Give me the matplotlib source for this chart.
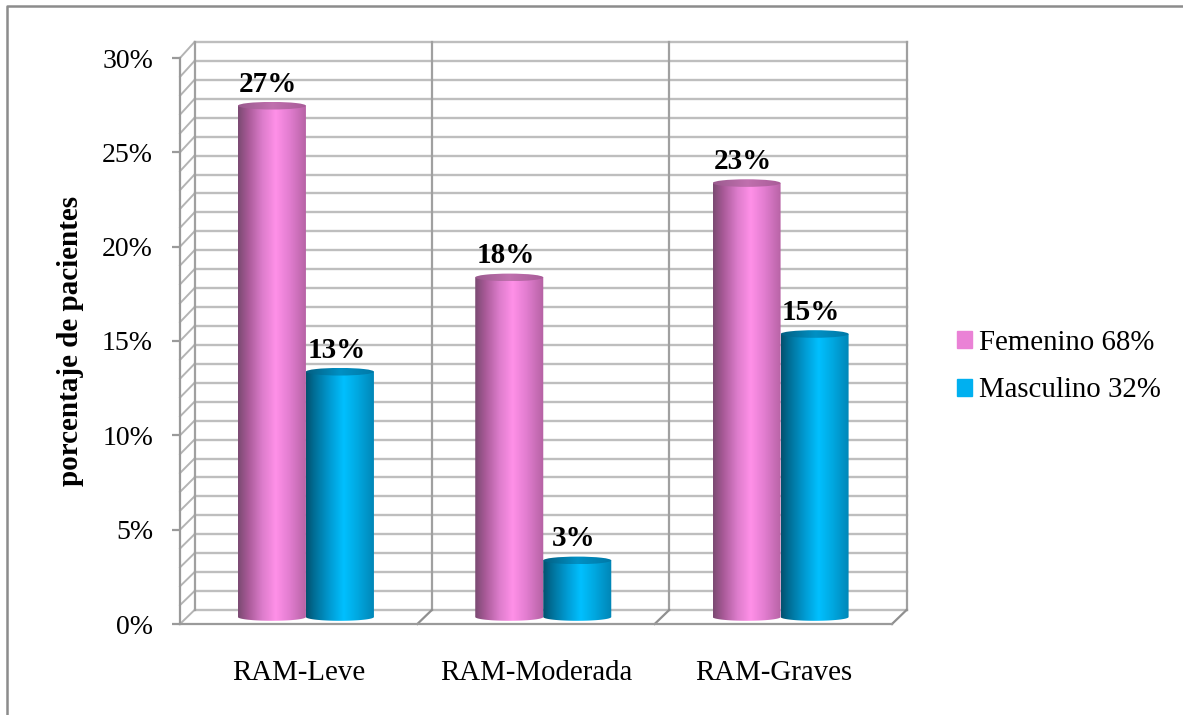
import numpy as np
import matplotlib
matplotlib.use("Agg")
import matplotlib.pyplot as plt
from matplotlib.colors import LinearSegmentedColormap
from matplotlib.lines import Line2D
from matplotlib.patches import Patch, Polygon, Ellipse

categories = ["RAM-Leve", "RAM-Moderada", "RAM-Graves"]
femenino = [27.1, 18, 23]
masculino = [13, 3, 15]
series_names = ["Femenino 68%", "Masculino 32%"]
ytick_values = [0, 5, 10, 15, 20, 25, 30]

W, H = 1183, 715
DEPTH_X = 14.5 / 237.3  # wall offset, in category units
DEPTH_Y = 14 / 18.87    # wall offset, in percent
WALL_SCALE = 568 / 566  # back wall is a touch taller than the front axis
BAR_W = 68 / 237.3
RY = 3.8 / 18.87

plt.rcParams['font.family'] = ['Liberation Serif', 'DejaVu Serif']

pink = LinearSegmentedColormap.from_list("pink3d", [(0, "#7B4A72"), (0.15, "#A95A98"), (0.35, "#DC7CCB"),
                                                    (0.55, "#FF90E8"), (0.75, "#E27DD0"), (1, "#B562A3")])
blue = LinearSegmentedColormap.from_list("blue3d", [(0, "#04516F"), (0.12, "#006F97"), (0.35, "#009CD4"),
                                                    (0.55, "#00C0FF"), (0.75, "#00A8E0"), (1, "#0085B5")])
pink_top = LinearSegmentedColormap.from_list("pinktop", ["#9A5A8E", "#C070AE", "#A85C98"])
blue_top = LinearSegmentedColormap.from_list("bluetop", ["#045F82", "#0090C4", "#0078A6"])

fig = plt.figure(figsize=(W / 100, H / 100), dpi=100)
ax = fig.add_axes([180 / W, 1 - 624 / H, 712 / W, 566 / H])

# back wall, side wall and floor
wall_top = 30 * WALL_SCALE + DEPTH_Y
for y in range(0, 31):
    wy = y * WALL_SCALE + DEPTH_Y
    ax.plot([DEPTH_X, 3 + DEPTH_X], [wy, wy], color="#BEBEBE", lw=1.7, zorder=1, clip_on=False)
    ax.plot([0, DEPTH_X], [y, wy], color="#B4B4B4", lw=1.4, zorder=1, clip_on=False)
ax.plot([DEPTH_X, DEPTH_X], [DEPTH_Y, wall_top], color="#A0A0A0", lw=1.6, zorder=2, clip_on=False)
for i in range(1, 4):
    ax.plot([i + DEPTH_X, i + DEPTH_X], [DEPTH_Y, wall_top], color="#A0A0A0", lw=1.6, zorder=2, clip_on=False)
    ax.plot([i, i + DEPTH_X], [0, DEPTH_Y], color="#909090", lw=1.6, zorder=2, clip_on=False)


def cylinder(xc, value, cmap, cmap_top):
    x0, x1 = xc - BAR_W / 2, xc + BAR_W / 2
    base = DEPTH_Y / 2
    top = base + value
    grad = np.linspace(0, 1, 128).reshape(1, -1)
    # side of the cylinder, rounded at the bottom
    t = np.linspace(np.pi, 2 * np.pi, 40)
    pts = [(x0, top)] + list(zip(xc + BAR_W / 2 * np.cos(t), base + RY * np.sin(t))) + [(x1, top)]
    im = ax.imshow(grad, cmap=cmap, extent=[x0, x1, base - RY, top], aspect="auto", zorder=3, interpolation="bilinear")
    im.set_clip_path(Polygon(pts, closed=True, transform=ax.transData))
    # lid
    im2 = ax.imshow(grad, cmap=cmap_top, extent=[x0, x1, top - RY, top + RY], aspect="auto", zorder=4,
                    interpolation="bilinear")
    im2.set_clip_path(Ellipse((xc, top), BAR_W, 2 * RY, transform=ax.transData))
    ax.annotate("%d%%" % round(value), (xc, top), xytext=(-2.6, 15.6), textcoords="offset points", ha="center",
                va="center", fontsize=21, fontweight="bold", color="black", zorder=6, annotation_clip=False)


for i in range(3):
    xc = i + 0.5 + DEPTH_X / 2
    cylinder(xc - BAR_W / 2, femenino[i], pink, pink_top)
    cylinder(xc + BAR_W / 2, masculino[i], blue, blue_top)

ax.set_xlim(0, 3)
ax.set_ylim(0, 30)
ax.patch.set_visible(False)
for s in ["top", "right"]:
    ax.spines[s].set_visible(False)
for s in ["left", "bottom"]:
    ax.spines[s].set_color("#9A9A9A")
    ax.spines[s].set_linewidth(1.6)
ax.set_yticks(ytick_values)
ax.set_yticklabels(["%d%%" % v for v in ytick_values], fontsize=20)
ax.set_xticks([0.5, 1.5, 2.5])
ax.set_xticklabels(categories, fontsize=20.8)
ax.tick_params(axis="y", length=6, width=1.6, color="#9A9A9A", pad=13.4)
ax.tick_params(axis="x", length=0, pad=25.6)
ax.set_ylabel("porcentaje de pacientes", fontsize=21, fontweight="bold", labelpad=12.8, y=0.5)

handles = [Patch(color="#EA82D6"), Patch(color="#00B0F0")]
fig.legend(handles, series_names, loc="center left", bbox_to_anchor=(957 / W, 1 - 366.5 / H), frameon=False,
           fontsize=20.8, handlelength=0.52, handleheight=0.52, handletextpad=0.25, labelspacing=0.76,
           borderpad=0, borderaxespad=0)

# frame of the pasted picture, only left and top show
fig.add_artist(Line2D([6.5 / W, 6.5 / W, 1], [0, 1 - 6 / H, 1 - 6 / H], color="#8C8C8C", lw=1.8))

fig.savefig("out.png", dpi=100)
